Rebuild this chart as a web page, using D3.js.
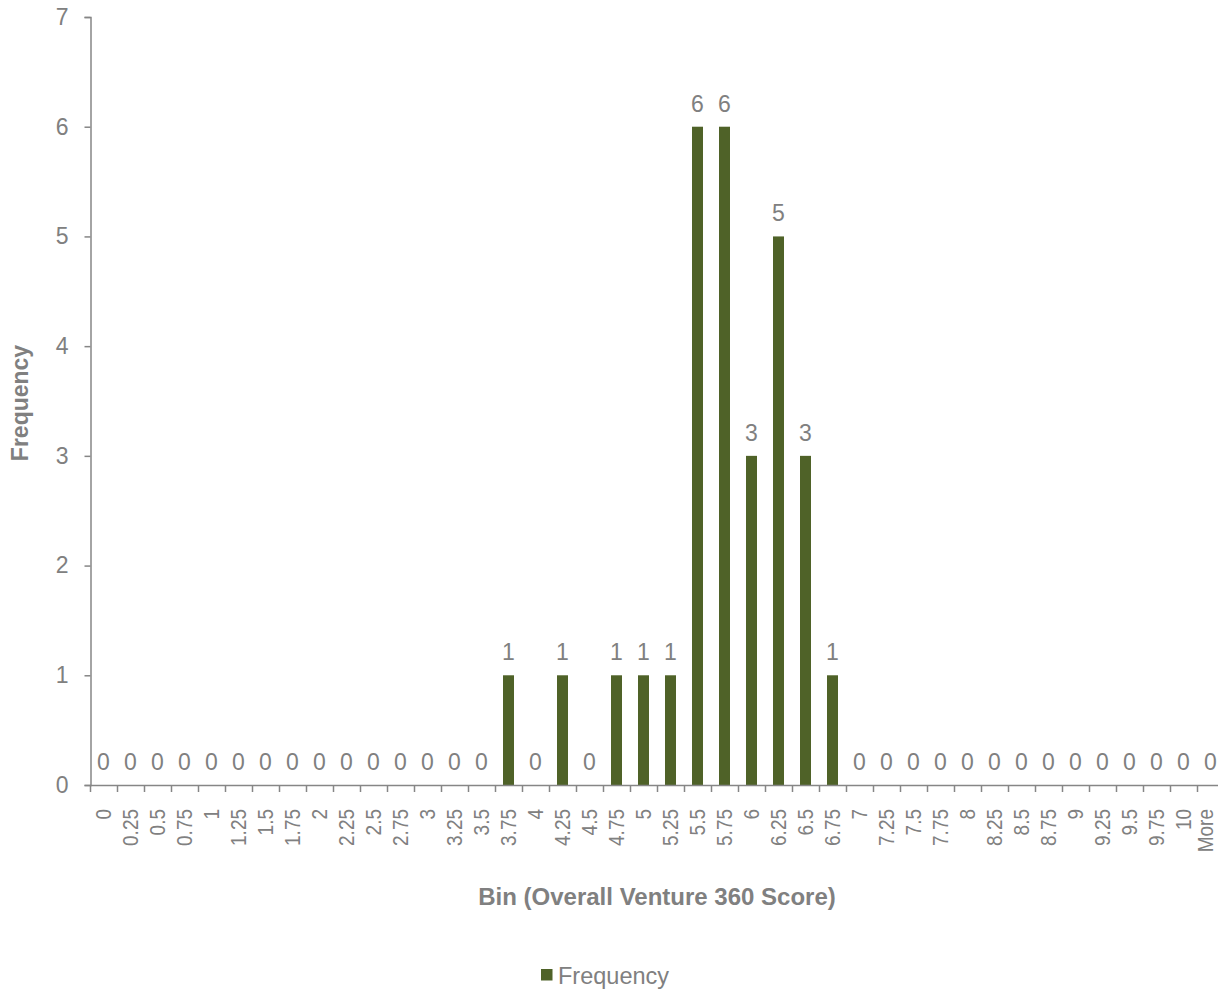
<!DOCTYPE html>
<html>
<head>
<meta charset="utf-8">
<script src="https://cdn.jsdelivr.net/npm/d3@7/dist/d3.min.js"></script>
<style>
  html, body { margin: 0; padding: 0; background: #fff; }
  svg text { font-family: "Liberation Sans", Arial, sans-serif; fill: #808080; }
</style>
</head>
<body>
<svg id="chart" width="1218" height="989"></svg>
<script>
// Histogram bins (upper edges) and their counts
const bins = ["0","0.25","0.5","0.75","1","1.25","1.5","1.75","2","2.25","2.5","2.75","3","3.25","3.5",
  "3.75","4","4.25","4.5","4.75","5","5.25","5.5","5.75","6","6.25","6.5","6.75","7","7.25","7.5",
  "7.75","8","8.25","8.5","8.75","9","9.25","9.5","9.75","10","More"];
const frequency = [0,0,0,0,0,0,0,0,0,0,0,0,0,0,0,
  1,0,1,0,1,1,1,6,6,3,5,3,1,0,0,0,
  0,0,0,0,0,0,0,0,0,0,0];
const yTicks = [0,1,2,3,4,5,6,7];
const seriesName = "Frequency";
const xTitle = "Bin (Overall Venture 360 Score)";
const yTitle = "Frequency";

const barColor = "#4f6228";
const axisColor = "#868686";
const textColor = "#808080";

const width = 1218;
const svg = d3.select("#chart");
const plot = { left: 90, top: 17, bottom: 785 };
const step = 27;

const x = d3.scaleBand()
  .domain(bins)
  .range([plot.left, plot.left + bins.length * step])
  .paddingInner(0.593)
  .paddingOuter(0.2965);

const y = d3.scaleLinear().domain([0, 7]).range([plot.bottom, plot.top]);

// Y axis
const yAxis = d3.axisLeft(y).tickValues(yTicks).tickSize(6).tickPadding(16).tickFormat(d3.format("d"));
const gy = svg.append("g").attr("transform", `translate(${plot.left + 0.5},0)`).call(yAxis);
gy.select(".domain").attr("stroke", axisColor).attr("stroke-width", 1.5);
gy.selectAll(".tick line").attr("stroke", axisColor).attr("stroke-width", 1.5);
gy.selectAll(".tick text").attr("font-size", 23).attr("fill", textColor)
  .style("font-family", "Liberation Sans, Arial, sans-serif");

// Bars
svg.append("g").selectAll("rect")
  .data(bins.map((b, i) => ({ bin: b, value: frequency[i] })))
  .join("rect")
  .attr("x", d => x(d.bin))
  .attr("width", x.bandwidth())
  .attr("y", d => y(d.value))
  .attr("height", d => y(0) - y(d.value))
  .attr("fill", barColor);

// X axis line and ticks at bin boundaries
const gx = svg.append("g");
const [r0, r1] = x.range();
gx.append("line")
  .attr("x1", r0).attr("x2", r1)
  .attr("y1", y(0) + 0.5).attr("y2", y(0) + 0.5)
  .attr("stroke", axisColor).attr("stroke-width", 1.5);
gx.selectAll("line.tick")
  .data(d3.range(bins.length + 1))
  .join("line")
  .attr("class", "tick")
  .attr("x1", i => r0 + i * x.step() + 0.5)
  .attr("x2", i => r0 + i * x.step() + 0.5)
  .attr("y1", y(0))
  .attr("y2", y(0) + 7)
  .attr("stroke", axisColor).attr("stroke-width", 1.5);

// Rotated bin labels (slightly widened glyphs), kept inside the right edge
gx.selectAll("text")
  .data(bins)
  .join("text")
  .attr("transform", d => {
    const bx = Math.min(x(d) + x.bandwidth() / 2 + 7, width - 5);
    return `translate(${bx},${y(0) + 24}) scale(1.2,1) rotate(-90)`;
  })
  .attr("text-anchor", "end")
  .attr("font-size", 19)
  .attr("fill", textColor)
  .text(d => d);

// Value labels above the bars
svg.append("g").selectAll("text")
  .data(bins.map((b, i) => ({ bin: b, value: frequency[i] })))
  .join("text")
  .attr("x", d => x(d.bin) + x.bandwidth() / 2)
  .attr("y", d => y(d.value) - 15)
  .attr("text-anchor", "middle")
  .attr("font-size", 23)
  .attr("fill", textColor)
  .text(d => d.value);

// Axis titles
svg.append("text")
  .attr("x", 657).attr("y", 905)
  .attr("text-anchor", "middle")
  .attr("font-size", 24).attr("font-weight", "bold")
  .attr("fill", textColor)
  .text(xTitle);

svg.append("text")
  .attr("transform", `translate(28,403) rotate(-90)`)
  .attr("text-anchor", "middle")
  .attr("font-size", 23).attr("font-weight", "bold")
  .attr("fill", textColor)
  .text(yTitle);

// Legend
const legend = svg.append("g").attr("transform", "translate(541,969)");
legend.append("rect").attr("width", 11.5).attr("height", 11.5).attr("fill", barColor);
legend.append("text").attr("x", 17).attr("y", 15)
  .attr("font-size", 23.5).attr("fill", textColor).text(seriesName);
</script>
</body>
</html>
